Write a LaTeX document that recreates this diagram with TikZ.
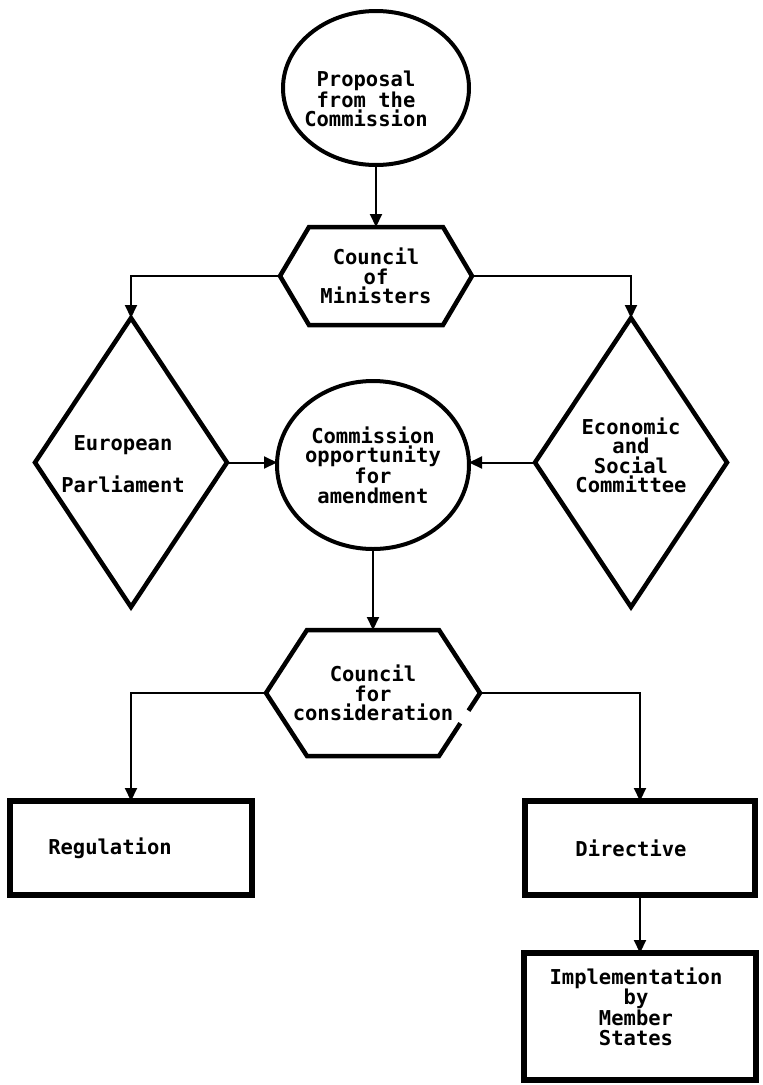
\documentclass[tikz,border=0pt]{standalone}
\usepackage{fontspec}
\newfontfamily\pixfont{DejaVu Sans Mono}
\usetikzlibrary{shapes.geometric,arrows.meta,calc}
\begin{document}
\begin{tikzpicture}[x=1pt,y=-1pt,
  every node/.style={font=\pixfont\bfseries\fontsize{20.5}{19.5}\selectfont, align=center, inner sep=0pt, outer sep=0pt},
  ell/.style={ellipse, draw, line width=4pt},
  boxnode/.style={rectangle, draw, line width=5.5pt},
  slot/.style={rectangle},
  shapeline/.style={line width=4.5pt, line join=miter},
  conn/.style={line width=2pt, -{Triangle[length=13pt,width=12pt]}}
]
\useasboundingbox (0,0) rectangle (763,1085);

% nodes
\node[ell, minimum width=186pt, minimum height=154pt,
      label={[xshift=-10pt,yshift=-11pt]center:{Proposal\\from the\\Commission}}] (prop) at (376,88) {};
\node[slot, minimum width=192pt, minimum height=98pt] (h1) at (376,276) {Council\\of\\Ministers};
\node[slot, minimum width=192pt, minimum height=289pt,
      label={[xshift=-8pt,yshift=-2pt]center:{European\\[20pt]Parliament}}] (pe) at (131,462.5) {};
\node[slot, minimum width=192pt, minimum height=289pt,
      label={[yshift=7pt]center:{Economic\\and\\Social\\Committee}}] (esc) at (631,462.5) {};
\node[ell, minimum width=190pt, minimum height=168pt] (cao) at (373,465) {Commission\\opportunity\\for\\amendment};
\node[slot, minimum width=214pt, minimum height=126pt] (h2) at (373,693) {Council\\for\\consideration};
\node[boxnode, minimum width=242pt, minimum height=94pt] (reg) at (131,848) {\hspace*{-42pt}Regulation};
\node[boxnode, minimum width=230pt, minimum height=94pt] (dir) at (640,848) {\hspace*{-18pt}Directive};
\node[boxnode, minimum width=232pt, minimum height=127pt,
      label={[xshift=-4pt,yshift=10pt]center:{Implementation\\by\\Member\\States}}] (impl) at (640,1016.5) {};

% outlines of hexagons and diamonds
\draw[shapeline] ([xshift=29pt]h1.north west) -- ([xshift=-29pt]h1.north east) -- (h1.east)
  -- ([xshift=-29pt]h1.south east) -- ([xshift=29pt]h1.south west) -- (h1.west) -- cycle;
\draw[shapeline] (pe.north) -- (pe.east) -- (pe.south) -- (pe.west) -- cycle;
\draw[shapeline] (esc.north) -- (esc.east) -- (esc.south) -- (esc.west) -- cycle;
\coordinate (h2se) at ([xshift=-41pt]h2.south east);
\draw[shapeline] ($(h2.east)!0.48!(h2se)$) -- (h2se) -- ([xshift=41pt]h2.south west) -- (h2.west)
  -- ([xshift=41pt]h2.north west) -- ([xshift=-41pt]h2.north east) -- (h2.east) -- ($(h2.east)!0.28!(h2se)$);

% connectors
\draw[conn] (prop.south) -- (h1.north);
\draw[conn] (h1.west) -| (pe.north);
\draw[conn] (h1.east) -| (esc.north);
\draw[conn] (pe.east) -- (cao.west |- pe.east);
\draw[conn] (esc.west) -- (cao.east |- esc.west);
\draw[conn] (cao.south) -- (h2.north);
\draw[conn] (h2.west) -| (reg.north);
\draw[conn] (h2.east) -| (dir.north);
\draw[conn] (dir.south) -- (impl.north);
\end{tikzpicture}
\end{document}
